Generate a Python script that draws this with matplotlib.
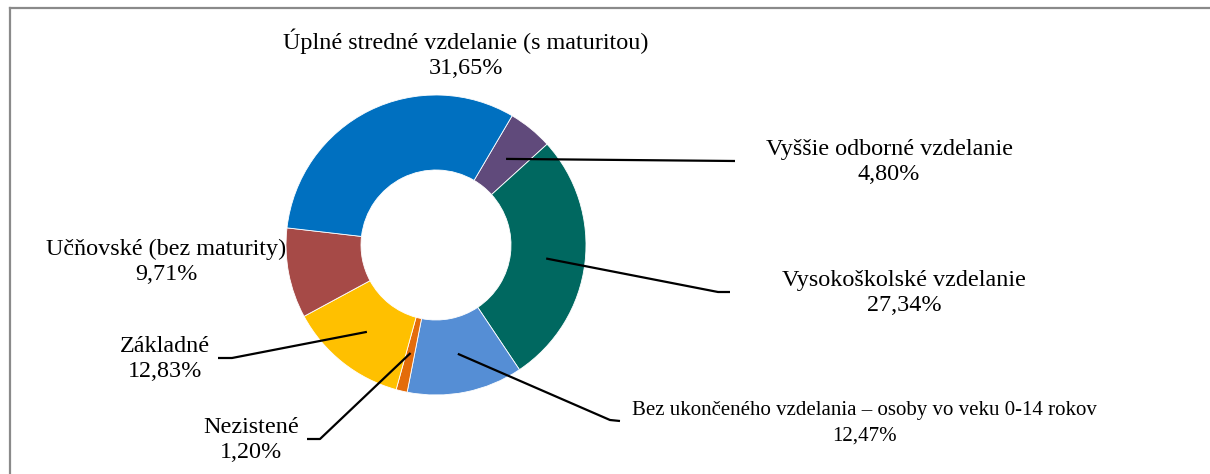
import numpy as np
import matplotlib
matplotlib.use("Agg")
import matplotlib.pyplot as plt
from matplotlib.lines import Line2D

# data (clockwise order as drawn)
categories = ["Vyššie odborné vzdelanie", "Vysokoškolské vzdelanie",
              "Bez ukončeného vzdelania – osoby vo veku 0-14 rokov",
              "Nezistené", "Základné", "Učňovské (bez maturity)",
              "Úplné stredné vzdelanie (s maturitou)"]
values = [4.80, 27.34, 12.47, 1.20, 12.83, 9.71, 31.65]
colors = ["#604A7B", "#006860", "#558ED5", "#E46C0A", "#FFC000", "#A64A47", "#0070C0"]

# label placement (pixel coords, y from top): text center, leader elbow, leader end
label_pos = [(889, 162), (904, 293), (864, 423), (251, 440), (165, 359), (166, 262), (466, 54)]
label_size = [17.4, 17.4, 15, 17.4, 17.4, 17.4, 17.4]
elbows = [(735, 161), (718, 292), (610, 420), (320, 439), (232, 358), None, None]
ends = [(735, 161), (730, 292), (620, 421), (307, 439), (218, 358), None, None]

W, H = 1210, 474
fig = plt.figure(figsize=(W / 100, H / 100), dpi=100)
ax = fig.add_axes([0, 0, 1, 1])

cx, cy, R = 436, H - 245, 150
start = 90 - 30.5
wedges, _ = ax.pie(values, colors=colors, startangle=start, counterclock=False,
                   center=(cx, cy), radius=R, frame=True,
                   wedgeprops=dict(width=R * 0.5, linewidth=0.6, edgecolor="white"))
ax.set_xlim(0, W)
ax.set_ylim(0, H)
ax.set_aspect("equal")
ax.axis("off")

for i, w in enumerate(wedges):
    tx, ty = label_pos[i]
    ax.text(tx, H - ty, f"{categories[i]}\n{values[i]:.2f}%".replace(".", ","),
            ha="center", va="center", linespacing=1.24 * 17.4 / label_size[i],
            family="Liberation Serif", size=label_size[i])
    if ends[i] is None:
        continue
    mid = np.deg2rad((w.theta1 + w.theta2) / 2)
    sx, sy = cx + 0.74 * R * np.cos(mid), cy + 0.74 * R * np.sin(mid)
    ex, ey = elbows[i]
    fx, fy = ends[i]
    ax.plot([sx, ex, fx], [sy, H - ey, H - fy], color="black", lw=1.6,
            solid_capstyle="butt", zorder=5)

# chart frame (top and left edges visible)
fig.add_artist(Line2D([10, W], [H - 8, H - 8], transform=None, color="#8a8a8a", lw=1.6))
fig.add_artist(Line2D([10, 10], [0, H - 8], transform=None, color="#8a8a8a", lw=1.6))

fig.savefig("out.png", dpi=100, facecolor="white")
